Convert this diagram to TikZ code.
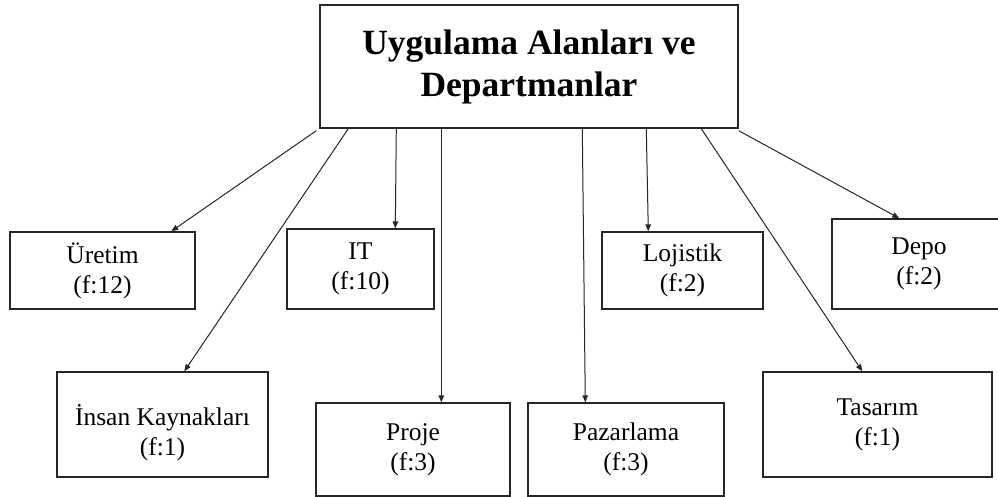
\documentclass[tikz,border=0pt]{standalone}
\usepackage{fontspec}
\setmainfont{Liberation Serif}
\usetikzlibrary{arrows.meta}

\tikzset{
  box/.style={draw=black!85, line width=1.4pt, rectangle, inner sep=0pt,
    align=center, font=\fontsize{25.5}{30}\selectfont},
  headbox/.style={box, font=\bfseries\fontsize{35.5}{42}\selectfont},
  conn/.style={draw=black!85, line width=1pt,
    -{Triangle[length=7pt,width=5.5pt]}}
}

\begin{document}
\begin{tikzpicture}[x=1pt,y=-1pt]
  \useasboundingbox (0,0) rectangle (998,497);
  \fill[white] (0,0) rectangle (998,497);

  % heading box
  \node[headbox, minimum width=418pt, minimum height=123pt] (top) at (529,66.5)
    {Uygulama Alanları ve\\Departmanlar};

  % departments, upper row
  \node[box, minimum width=185pt, minimum height=77pt] (ure) at (102.5,270.5)
    {Üretim\\(f:12)};
  \node[box, minimum width=147pt, minimum height=80pt] (it) at (360.5,269)
    {IT\\(f:10)};
  \node[box, minimum width=161pt, minimum height=77pt] (loj) at (682.5,270.5)
    {Lojistik\\(f:2)};
  \node[box, minimum width=174pt, minimum height=90pt] (depo) at (919,264)
    {Depo\\(f:2)};

  % departments, lower row
  \node[box, minimum width=211pt, minimum height=105pt] (ik) at (162.5,424.5) {};
  \node[font=\fontsize{25.5}{30}\selectfont, align=center] (iktext) at (162.5,433)
    {İnsan Kaynakları\\(f:1)};
  \node[box, minimum width=194pt, minimum height=93pt] (proje) at (413,449.5)
    {Proje\\(f:3)};
  \node[box, minimum width=196pt, minimum height=93pt] (paz) at (626,449.5)
    {Pazarlama\\(f:3)};
  \node[box, minimum width=229pt, minimum height=105pt] (tas) at (877.5,424.5)
    {Tasarım\\(f:1)};

  % connectors from the heading box
  \draw[conn] ([xshift=-3pt,yshift=-2pt]top.south west) -- ([xshift=162pt]ure.north west);
  \draw[conn] ([xshift=29pt]top.south west) -- ([xshift=128pt]ik.north west);
  \draw[conn] ([xshift=77pt]top.south west) -- ([xshift=109pt]it.north west);
  \draw[conn] ([xshift=122pt]top.south west) -- ([xshift=126pt]proje.north west);
  \draw[conn] ([xshift=263pt]top.south west) -- ([xshift=58pt]paz.north west);
  \draw[conn] ([xshift=327pt]top.south west) -- ([xshift=47pt]loj.north west);
  \draw[conn] ([xshift=382pt]top.south west) -- ([xshift=100pt]tas.north west);
  \draw[conn] ([yshift=-2pt]top.south east) -- ([xshift=68pt]depo.north west);
\end{tikzpicture}
\end{document}
